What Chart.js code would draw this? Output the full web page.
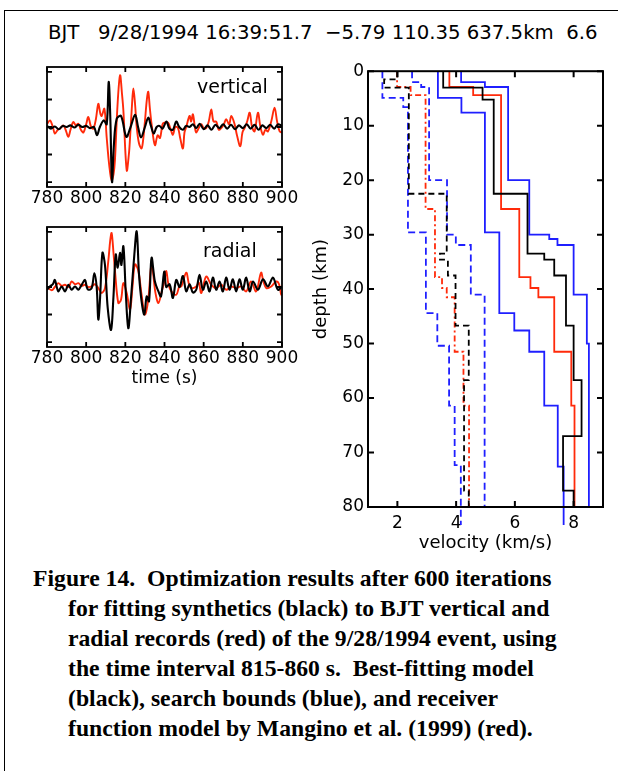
<!DOCTYPE html>
<html><head><meta charset="utf-8">
<script src="https://cdn.jsdelivr.net/npm/chart.js@4/dist/chart.umd.min.js"></script>
<style>
html,body{margin:0;padding:0;background:#fff;}
body{width:618px;height:771px;position:relative;overflow:hidden;}
#frame{position:absolute;left:4px;top:10px;width:700px;height:800px;border-left:1px solid #000;border-top:1px solid #000;}
canvas{position:absolute;}
.lbl{position:absolute;font-family:"DejaVu Sans";white-space:pre;line-height:1;color:#000;}
#caption{position:absolute;left:33px;top:563px;font-family:"Liberation Serif";font-weight:bold;font-size:23.7px;line-height:30px;white-space:pre;color:#000;}
#caption div.in{padding-left:35px;}
</style></head>
<body>
<div id="frame"></div>
<div class="lbl" style="left:48px;top:22.5px;font-size:19.7px">BJT   9/28/1994 16:39:51.7  −5.79 110.35 637.5km  6.6</div>
<canvas id="cv" width="320" height="160" style="left:0;top:57px"></canvas>
<canvas id="cr" width="320" height="175" style="left:0;top:217px"></canvas>
<canvas id="cp" width="318" height="503" style="left:300px;top:57px"></canvas>
<div class="lbl" style="left:197px;top:77px;font-size:19px">vertical</div>
<div class="lbl" style="left:203px;top:241px;font-size:19px">radial</div>
<div id="caption"><div>Figure 14.  Optimization results after 600 iterations</div><div class="in">for fitting synthetics (black) to BJT vertical and</div><div class="in">radial records (red) of the 9/28/1994 event, using</div><div class="in">the time interval 815-860 s.  Best-fitting model</div><div class="in">(black), search bounds (blue), and receiver</div><div class="in">function model by Mangino et al. (1999) (red).</div></div>
<script>
// ---------- tick labels ----------
const timeTicks = [780, 800, 820, 840, 860, 880, 900];
const ampTicks = [-1, -0.5, 0, 0.5, 1];
const velTicks = [2, 4, 6, 8];
const depthTicks = [0, 10, 20, 30, 40, 50, 60, 70, 80];

// ---------- vertical component ----------
const vertBlackT = [780,782,784,786,788,790,792,794,796,798,800,802,804,805.5,807,809,810.5,811.5,812.3,813.2,814.2,815.6,817.8,820.5,822.5,825,826.5,828,830,831.7,833,834.5,836,837.5,839,841,842.5,844.3,846,847.5,849.4,851,852.8,854.5,856.2,858,860,862,864,866,868,870,872,874,876,878,880,882,884,886,888,890,892,894,896,898,900];
const vertBlackA = [0.02,-0.03,0.01,-0.04,0.02,0.0,0.03,-0.01,0.04,0.0,0.02,-0.02,0.0,-0.15,0.0,0.12,0.05,0.82,0.2,-1.0,-0.3,0.15,0.2,-0.18,-0.02,0.22,0.0,-0.19,0.0,0.17,0.03,-0.12,0.0,0.02,-0.03,0.1,-0.03,-0.05,0.1,0.0,-0.05,0.02,0.0,0.05,-0.02,0.06,-0.04,0.03,-0.05,0.04,-0.02,0.05,-0.03,0.04,-0.04,0.03,-0.02,0.05,-0.03,0.04,-0.05,0.03,-0.02,0.04,-0.03,0.05,0.02];
const vertRedT = [780,781.5,783,784,785.5,786.6,788.3,789.5,790.9,792,793.4,794.8,796,797.3,798.6,800,801.1,802.5,803.7,805,806.2,807.2,807.9,809.3,810.5,811.8,813,814,814.7,816,817.3,818.3,819,820.7,821.8,822.4,823.4,824.1,825,825.8,827,828.3,829.2,830,831,831.7,832.5,833.4,835.1,836.5,837.7,839,839.9,841.8,843.2,844.3,845.5,846.9,848,849.4,850.2,851.1,852.8,853.6,854.5,855.5,856.2,857.5,858.8,860,861.3,862.6,863.9,865,866.4,867.7,869,870.3,871.5,873,874.1,875.8,877,878.7,879.8,880.9,882.2,883.5,884.7,886,887.7,889,890.3,891.5,892.8,894.5,896.2,897.5,898.8,900];
const vertRedA = [0.05,0.12,0.0,-0.12,-0.05,-0.03,0.03,-0.05,-0.18,-0.05,0.09,0.03,0.06,-0.05,-0.1,0.05,0.18,0.0,-0.03,0.15,0.42,0.25,0.2,0.33,-0.2,-0.7,-0.97,-0.85,-0.6,0.39,0.94,0.6,0.3,-0.79,-0.5,-0.2,0.4,0.7,0.4,0.0,-0.3,-0.39,-0.2,0.1,0.5,0.64,0.35,0.05,-0.33,-0.15,-0.2,0.05,0.08,0.08,-0.05,-0.14,0.0,-0.02,-0.2,-0.39,-0.1,0.0,0.2,0.1,0.23,0.0,-0.1,-0.02,0.05,-0.02,-0.02,0.1,0.32,0.1,0.1,-0.05,-0.02,0.05,0.14,0.05,0.2,0.05,-0.15,-0.35,-0.1,-0.02,0.1,0.26,0.0,-0.08,0.26,0.0,-0.14,-0.05,-0.08,0.1,0.35,0.1,-0.08,-0.1];

// ---------- radial component ----------
const radBlackT = [780,781.5,783,784,785,785.8,787.5,789.2,790.9,792.6,794.3,796,797.7,799.4,800.3,801.1,802.8,804.2,805.4,806.2,807.1,808.3,809.6,811,812.7,813.9,815.1,816.1,817.3,818,819,820.2,821.5,822.9,824.6,825.8,827,828.3,829.7,830.9,832.1,833.4,835.1,836.9,838.2,839.9,840.9,842.6,844.3,846,847.7,849.4,851.1,852.8,854.5,856.2,857.9,859.6,861.3,863,864.7,866.4,868.1,869.8,871.5,873.2,874.9,876.6,878.3,880,881.7,883.5,885.2,887.7,890.3,892.8,895.4,897.9,900];
const radBlackA = [-0.05,0.01,0.05,0.13,0.0,-0.08,0.01,-0.08,0.04,-0.05,0.01,-0.05,0.04,0.13,0.0,-0.05,-0.02,0.25,-0.02,-0.59,-0.2,0.62,0.4,-0.38,-0.78,-0.2,0.59,0.35,0.62,0.4,0.74,-0.08,-0.75,-0.2,0.59,1.01,0.22,-0.26,-0.5,-0.17,-0.26,0.53,0.1,-0.08,-0.17,0.28,0.0,0.05,-0.2,0.13,0.0,0.2,-0.08,0.05,-0.1,-0.05,0.22,-0.05,0.1,-0.08,0.17,-0.05,0.1,-0.08,0.17,-0.05,0.14,-0.08,0.14,-0.05,0.17,-0.08,0.1,-0.05,0.14,0.01,0.17,-0.05,0.01];
const radRedT = [780,782.4,784,785.8,787.5,789.2,791,792.6,794.3,796,797.7,799.4,801,802.8,804.5,806.2,807.9,809.6,811.3,812.3,813,814,814.7,816.4,817.8,819,820.7,822.4,823.6,824.9,826.6,828.3,830,831.7,833.4,835.4,836.9,838.6,839.9,840.9,842,843.5,846,847.5,848.6,851.1,852.5,853.7,856.2,857.5,858.8,861.3,863.9,866.4,869,871.5,874.1,876.6,879.1,881.7,884.2,886.8,889.3,890.5,892,894.5,897.1,898.5,899.6,900];
const radRedA = [0.0,-0.06,0.0,0.07,0.02,0.04,0.0,0.1,0.05,0.07,0.02,0.04,0.0,0.01,0.05,-0.02,-0.11,-0.02,0.47,0.85,0.98,0.6,0.3,-0.29,-0.23,0.07,-0.11,-0.41,-0.02,0.41,0.3,-0.14,-0.5,-0.23,0.41,-0.11,-0.29,-0.08,0.1,0.29,0.05,-0.08,-0.14,0.0,0.01,0.26,0.05,-0.02,0.01,0.08,-0.11,0.19,0.04,-0.02,0.04,-0.05,0.01,-0.02,0.01,-0.08,0.1,-0.08,0.26,0.1,-0.02,0.01,0.1,0.05,-0.14,-0.12];

// ---------- velocity models: layer boundaries (km) and layer velocities (km/s) ----------
const bestVpDepth = [0,3.0,5.2,22.5,33.5,34.6,37.5,46.7,56.7,67.0,77.0,80];
const bestVp      = [3.56,4.9,5.28,6.43,7.0,7.34,7.74,8.0,8.27,7.64,8.0];
const bestVsDepth = [0,1.5,3.0,22.5,33.5,34.6,37.5,46.7,56.7,77.0,80];
const bestVs      = [2.0,1.55,2.39,3.68,3.45,3.72,3.98,4.43,4.27,4.43];
const rfVpDepth = [0,2.9,4.4,25.3,37.8,39.8,41.5,51.5,61.4,80];
const rfVp      = [3.77,4.58,5.53,6.15,6.53,6.8,7.34,7.92,8.03];
const rfVsDepth = [0,2.9,4.4,25.3,37.8,39.8,41.5,51.5,61.4,80];
const rfVs      = [1.99,2.45,2.96,3.28,3.52,3.68,3.95,4.25,4.44];
const lowVpDepth = [0,4.9,7.6,29.6,44.4,47.6,51.5,61.4,72.6,83.3];
const lowVp      = [3.38,4.18,4.98,5.47,5.98,6.49,7.0,7.46,7.66];
const upVpDepth = [0,2.0,2.9,20.0,30.0,30.8,31.9,41.0,50.0,80];
const upVp      = [4.17,4.98,5.77,6.49,7.17,7.45,8.0,8.45,8.52];
const lowVsDepth = [0,4.9,6.6,29.6,44.4,50.4,61.4,72.3,83.3];
const lowVs      = [1.49,2.2,2.36,2.97,3.36,3.76,3.95,4.16];
const upVsDepth = [0,2.0,2.9,20.0,30.0,31.9,41.0,80];
const upVs      = [2.5,2.81,3.08,3.69,3.99,4.5,4.97];

// ---------- helpers ----------
const BLUE = '#1f1fff', RED = '#ff2a0a';
function pts(T, A) { return T.map((t, i) => ({x: t, y: A[i]})); }
function steps(bnd, vel) {
  const p = [];
  vel.forEach((v, i) => { p.push({x: v, y: bnd[i]}); p.push({x: v, y: bnd[i + 1]}); });
  return p;
}
function setTicks(arr) { return s => { s.ticks = arr.map(v => ({value: v})); }; }

const boxTicks = {
  id: 'boxTicks',
  afterDatasetsDraw(chart, args, opts) {
    const {ctx, chartArea: a, scales: {x, y}} = chart;
    const L = opts.len || 5;
    ctx.save();
    ctx.strokeStyle = '#000';
    ctx.lineWidth = opts.lw || 1.8;
    ctx.beginPath();
    x.ticks.forEach(t => {
      const p = x.getPixelForValue(t.value);
      ctx.moveTo(p, a.bottom); ctx.lineTo(p, a.bottom - L);
      ctx.moveTo(p, a.top); ctx.lineTo(p, a.top + L);
    });
    y.ticks.forEach(t => {
      const p = y.getPixelForValue(t.value);
      ctx.moveTo(a.left, p); ctx.lineTo(a.left + L, p);
      ctx.moveTo(a.right, p); ctx.lineTo(a.right - L, p);
    });
    ctx.stroke();
    ctx.strokeRect(a.left, a.top, a.right - a.left, a.bottom - a.top);
    ctx.restore();
  }
};

const tickFont = {family: 'DejaVu Sans', size: 17};
const baseOpts = {responsive: false, animation: false, devicePixelRatio: 1};

function waveChart(id, red, black, withTitle, xh) {
  return new Chart(document.getElementById(id), {
    type: 'scatter',
    data: {datasets: [
      {data: black, borderColor: '#000', borderWidth: 2.1, showLine: true, pointRadius: 0, tension: 0.35},
      {data: red, borderColor: RED, borderWidth: 1.9, showLine: true, pointRadius: 0, tension: 0.35}
    ]},
    options: Object.assign({}, baseOpts, {
      layout: {padding: {left: 0, top: 10, right: 38, bottom: 0}},
      plugins: {legend: {display: false}, tooltip: {enabled: false}, boxTicks: {len: 5, lw: 1.8}},
      scales: {
        x: {type: 'linear', min: 780, max: 900, afterBuildTicks: setTicks(timeTicks), afterFit: s => { s.height = xh; },
            grid: {display: false, drawTicks: false}, border: {display: false},
            ticks: {font: tickFont, color: '#000', padding: 1, maxRotation: 0, autoSkip: false},
            title: {display: withTitle, text: 'time (s)', color: '#000', font: {family: 'DejaVu Sans', size: 17}, padding: {top: 0, bottom: 3}}},
        y: {type: 'linear', min: -1.09, max: 1.09, afterBuildTicks: setTicks(ampTicks), afterFit: s => { s.width = 47; },
            grid: {display: false, drawTicks: false}, border: {display: false}, ticks: {display: false}}
      }
    }),
    plugins: [boxTicks]
  });
}

waveChart('cv', pts(vertRedT, vertRedA), pts(vertBlackT, vertBlackA), false, 30);
waveChart('cr', pts(radRedT, radRedA), pts(radBlackT, radBlackA), true, 45);

function prof(bnd, vel, color, dash, extra) {
  return Object.assign({data: steps(bnd, vel), borderColor: color, borderWidth: 1.8, borderDash: dash || [],
    showLine: true, pointRadius: 0, tension: 0}, extra || {});
}
new Chart(document.getElementById('cp'), {
  type: 'scatter',
  data: {datasets: [
    prof(bestVpDepth, bestVp, '#000'),
    prof(bestVsDepth, bestVs, '#000', [6, 4]),
    prof(rfVpDepth, rfVp, RED),
    prof(rfVsDepth, rfVs, RED, [6, 3, 2, 3]),
    prof(lowVpDepth, lowVp, BLUE, null, {clip: {left: 0, top: 0, right: 0, bottom: 25}}),
    prof(upVpDepth, upVp, BLUE),
    prof(lowVsDepth, lowVs, BLUE, [7, 4], {clip: {left: 0, top: 0, right: 0, bottom: 25}}),
    prof(upVsDepth, upVs, BLUE, [7, 4])
  ]},
  options: Object.assign({}, baseOpts, {
    layout: {padding: {left: 0, top: 10, right: 15, bottom: 0}},
    plugins: {legend: {display: false}, tooltip: {enabled: false}, boxTicks: {len: 6, lw: 2}},
    scales: {
      x: {type: 'linear', min: 1, max: 9, afterBuildTicks: setTicks(velTicks), afterFit: s => { s.height = 53; },
          grid: {display: false, drawTicks: false}, border: {display: false},
          ticks: {font: tickFont, color: '#000', padding: 6, maxRotation: 0, autoSkip: false},
          title: {display: true, text: 'velocity (km/s)', color: '#000', font: {family: 'DejaVu Sans', size: 18}, padding: {top: 0, bottom: 6}}},
      y: {type: 'linear', reverse: true, min: 0, max: 80, afterBuildTicks: setTicks(depthTicks), afterFit: s => { s.width = 68; },
          grid: {display: false, drawTicks: false}, border: {display: false},
          ticks: {font: tickFont, color: '#000', padding: 4, autoSkip: false},
          title: {display: true, text: 'depth (km)', color: '#000', font: {family: 'DejaVu Sans', size: 18}, padding: {top: 11, bottom: 0}}}
    }
  }),
  plugins: [boxTicks]
});
</script>
</body></html>
